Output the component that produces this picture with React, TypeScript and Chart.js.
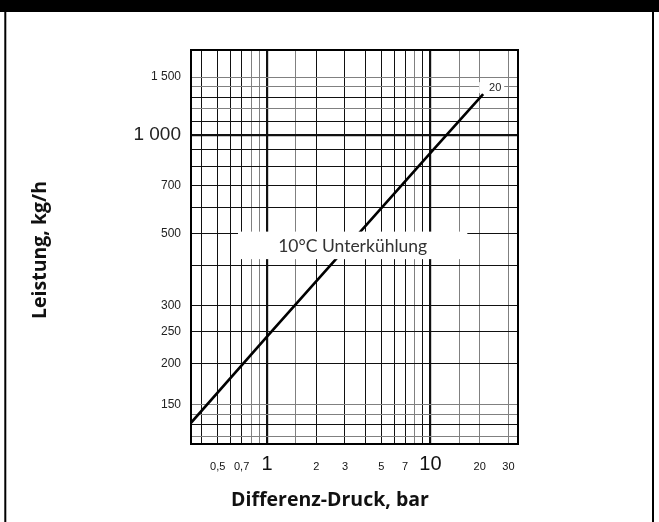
import React, { useEffect, useRef } from 'react';
import { Chart, registerables } from 'chart.js';

Chart.register(...registerables);

// ---- data ----
const PRESSURE_BAR = [0.343, 1, 10, 21];
const CAPACITY_KGH = [132, 242, 880, 1330];
const CURVE_TAG = '20';
const CURVE_NAME = '10°C Unterkühlung';

// ---- axes ----
const X_MIN = 0.343;
const X_MAX = 34.3;
const Y_MIN = 113.7;
const Y_MAX = 1814;
const X_GRID = [0.4, 0.5, 0.6, 0.7, 0.8, 0.9, 1, 1.5, 2, 3, 4, 5, 6, 7, 8, 9, 10, 15, 20, 30];
const X_LABEL_VALUES = [0.5, 0.7, 1, 2, 3, 5, 7, 10, 20, 30];
const X_LABEL_TEXT = ['0,5', '0,7', '1', '2', '3', '5', '7', '10', '20', '30'];
const X_MAJOR = [1, 10];
const X_GRAY = [0.8, 0.9, 1.5, 8, 15, 20, 30];

const Y_GRID = [120, 130, 140, 150, 200, 250, 300, 400, 500, 600, 700, 800, 900, 1000, 1100, 1200, 1300, 1400, 1500];
const Y_LABEL_VALUES = [150, 200, 250, 300, 500, 700, 1000, 1500];
const Y_LABEL_TEXT = ['150', '200', '250', '300', '500', '700', '1 000', '1 500'];
const Y_MAJOR = [1000];
const Y_GRAY = [120, 140, 150, 1200, 1400, 1500];

const X_TITLE = 'Differenz-Druck, bar';
const Y_TITLE = 'Leistung, kg/h';

// annotation box extents (data units)
const BOX_X = [0.665, 16.8];
const BOX_Y = [417, 506];

const TICK_FONT = '"Liberation Sans", Arial, sans-serif';
const LABEL_FONT = 'Lato, "Open Sans", sans-serif';
const TITLE_FONT = '"Open Sans", Lato, sans-serif';

const decor = {
  id: 'decor',
  beforeDraw(chart: any) {
    const { ctx, width, height } = chart;
    ctx.save();
    ctx.fillStyle = '#fff';
    ctx.fillRect(0, 0, width, height);
    ctx.fillStyle = '#000';
    ctx.fillRect(0, 0, width, 12);
    ctx.strokeStyle = '#000';
    ctx.lineWidth = 2;
    ctx.beginPath();
    ctx.moveTo(5.3, 0);
    ctx.lineTo(5.3, height);
    ctx.moveTo(653, 0);
    ctx.lineTo(653, height);
    ctx.stroke();
    ctx.restore();
  },
  afterDatasetsDraw(chart: any) {
    const { ctx } = chart;
    const xs = chart.scales.x;
    const ys = chart.scales.y;
    ctx.save();
    const x0 = xs.getPixelForValue(BOX_X[0]);
    const x1 = xs.getPixelForValue(BOX_X[1]);
    const y0 = ys.getPixelForValue(BOX_Y[1]);
    const y1 = ys.getPixelForValue(BOX_Y[0]);
    ctx.fillStyle = '#fff';
    ctx.fillRect(x0, y0, x1 - x0, y1 - y0);
    ctx.fillStyle = '#333';
    ctx.font = `17.5px ${LABEL_FONT}`;
    ctx.textAlign = 'center';
    ctx.textBaseline = 'middle';
    ctx.fillText(CURVE_NAME, (x0 + x1) / 2, (y0 + y1) / 2 + 1);
    const n = PRESSURE_BAR.length - 1;
    const px = xs.getPixelForValue(PRESSURE_BAR[n]);
    const py = ys.getPixelForValue(CAPACITY_KGH[n]);
    ctx.fillStyle = '#fff';
    ctx.fillRect(px - 4, py - 12, 25, 11);
    ctx.fillStyle = '#222';
    ctx.font = `11px ${TICK_FONT}`;
    ctx.fillText(CURVE_TAG, px + 12, py - 6.5);
    ctx.restore();
  },
  afterDraw(chart: any) {
    const { ctx, chartArea } = chart;
    ctx.save();
    ctx.strokeStyle = '#000';
    ctx.lineWidth = 2;
    ctx.strokeRect(chartArea.left, chartArea.top, chartArea.right - chartArea.left, chartArea.bottom - chartArea.top);
    ctx.fillStyle = '#111';
    ctx.font = `bold 19.5px ${TITLE_FONT}`;
    ctx.textAlign = 'center';
    ctx.textBaseline = 'middle';
    ctx.fillText(X_TITLE, 330, 500);
    ctx.translate(40, 250);
    ctx.rotate(-Math.PI / 2);
    ctx.fillText(Y_TITLE, 0, 0);
    ctx.restore();
  },
};

function gridColor(v: number, gray: number[]) {
  return gray.includes(v) ? '#808080' : '#111';
}

export default function App() {
  const ref = useRef<HTMLCanvasElement>(null);
  useEffect(() => {
    if (!ref.current) return;
    const points = PRESSURE_BAR.map((x, i) => ({ x, y: CAPACITY_KGH[i] }));
    const chart = new Chart(ref.current, {
      type: 'scatter',
      data: {
        datasets: [
          {
            data: points,
            showLine: true,
            borderColor: '#000',
            borderWidth: 2.6,
            pointRadius: 0,
            tension: 0,
          } as any,
        ],
      },
      options: {
        animation: false,
        responsive: false,
        devicePixelRatio: 1,
        layout: { padding: { top: 50, right: 141, left: 0, bottom: 0 } },
        plugins: { legend: { display: false }, tooltip: { enabled: false } },
        scales: {
          x: {
            type: 'logarithmic',
            bounds: 'data',
            min: X_MIN,
            max: X_MAX,
            afterBuildTicks: (s: any) => {
              s.ticks = X_GRID.map((v) => ({ value: v }));
            },
            afterFit: (s: any) => {
              s.height = 78;
            },
            border: { display: true, color: '#000', width: 2 },
            grid: {
              drawTicks: false,
              color: (c: any) => (c.tick ? gridColor(c.tick.value, X_GRAY) : '#111'),
              lineWidth: (c: any) => (c.tick && X_MAJOR.includes(c.tick.value) ? 2.2 : 1),
            },
            ticks: {
              autoSkip: false,
              maxRotation: 0,
              minRotation: 0,
              padding: 0,
              color: '#111',
              callback: (v: any) => {
                const i = X_LABEL_VALUES.indexOf(Number(v));
                return i >= 0 ? X_LABEL_TEXT[i] : '';
              },
              font: (c: any) =>
                c.tick && X_MAJOR.includes(c.tick.value)
                  ? { family: TICK_FONT, size: 20, lineHeight: 2.01 }
                  : { family: TICK_FONT, size: 11, lineHeight: 4.22 },
            },
          },
          y: {
            type: 'logarithmic',
            bounds: 'data',
            min: Y_MIN,
            max: Y_MAX,
            afterBuildTicks: (s: any) => {
              s.ticks = Y_GRID.map((v) => ({ value: v }));
            },
            afterFit: (s: any) => {
              s.width = 191;
            },
            border: { display: true, color: '#000', width: 2 },
            grid: {
              drawTicks: false,
              color: (c: any) => (c.tick ? gridColor(c.tick.value, Y_GRAY) : '#111'),
              lineWidth: (c: any) => (c.tick && Y_MAJOR.includes(c.tick.value) ? 2.2 : 1),
            },
            ticks: {
              autoSkip: false,
              padding: 10,
              color: '#222',
              callback: (v: any) => {
                const i = Y_LABEL_VALUES.indexOf(Number(v));
                return i >= 0 ? Y_LABEL_TEXT[i] : '';
              },
              font: (c: any) =>
                c.tick && Y_MAJOR.includes(c.tick.value)
                  ? { family: TICK_FONT, size: 19 }
                  : { family: TICK_FONT, size: 12 },
            },
          },
        },
      } as any,
      plugins: [decor],
    });
    return () => chart.destroy();
  }, []);
  return (
    <div style={{ position: 'absolute', left: 0, top: 0, width: 659, height: 522 }}>
      <canvas ref={ref} width={659} height={522} style={{ width: 659, height: 522, display: 'block' }} />
    </div>
  );
}
